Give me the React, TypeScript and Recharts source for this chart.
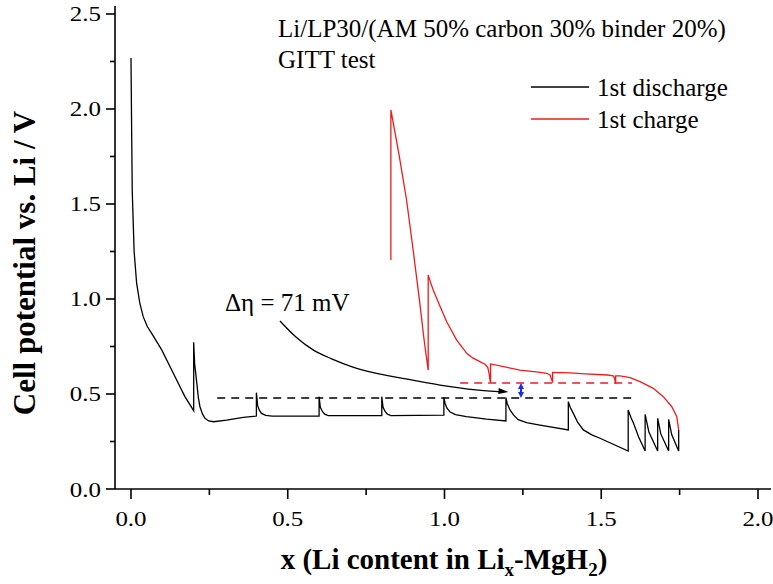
import React from 'react';
import { LineChart, Line, XAxis, YAxis, ReferenceLine, ReferenceDot } from 'recharts';

// 1st discharge (GITT), [x, V]
const discharge: [number, number][] = [
  [0, 2.268], [0.002, 1.9], [0.004, 1.57], [0.01, 1.25], [0.018, 1.083], [0.028, 0.98],
  [0.039, 0.907], [0.052, 0.855], [0.066, 0.819], [0.098, 0.732], [0.135, 0.609],
  [0.172, 0.486], [0.2, 0.412], [0.2, 0.772], [0.203, 0.66], [0.21, 0.556], [0.215, 0.48],
  [0.22, 0.433], [0.228, 0.395], [0.236, 0.372], [0.248, 0.358], [0.263, 0.354],
  [0.305, 0.363], [0.358, 0.377], [0.4, 0.384],
  [0.4, 0.507], [0.404, 0.44], [0.409, 0.416], [0.416, 0.398], [0.43, 0.388], [0.45, 0.384], [0.6, 0.384],
  [0.6, 0.486], [0.604, 0.43], [0.611, 0.407], [0.618, 0.394], [0.629, 0.386], [0.8, 0.386],
  [0.8, 0.486], [0.804, 0.43], [0.811, 0.407], [0.818, 0.394], [0.829, 0.386], [0.998, 0.389],
  [0.998, 0.481], [1.002, 0.45], [1.008, 0.425], [1.018, 0.405], [1.035, 0.392], [1.07, 0.381],
  [1.134, 0.368], [1.196, 0.358],
  [1.196, 0.481], [1.2, 0.45], [1.209, 0.416], [1.22, 0.39], [1.235, 0.365], [1.262, 0.349],
  [1.3, 0.338], [1.395, 0.311],
  [1.395, 0.46], [1.401, 0.43], [1.411, 0.398], [1.425, 0.35], [1.443, 0.311], [1.47, 0.285],
  [1.496, 0.267], [1.586, 0.2],
  [1.586, 0.416], [1.595, 0.375], [1.603, 0.346], [1.619, 0.275], [1.64, 0.2],
  [1.64, 0.393], [1.652, 0.3], [1.68, 0.2],
  [1.68, 0.372], [1.69, 0.29], [1.715, 0.2],
  [1.715, 0.367], [1.725, 0.285], [1.747, 0.2],
  [1.747, 0.311],
];

// 1st charge (GITT), [x, V]
const charge: [number, number][] = [
  [0.829, 1.205], [0.829, 1.995], [0.855, 1.76], [0.879, 1.521], [0.9, 1.258], [0.92, 0.995],
  [0.935, 0.784], [0.948, 0.626],
  [0.948, 1.126], [0.955, 1.09], [0.964, 1.047], [0.986, 0.96], [1.007, 0.88], [1.039, 0.784],
  [1.071, 0.714], [1.09, 0.69], [1.113, 0.67], [1.13, 0.655], [1.138, 0.64], [1.142, 0.61],
  [1.145, 0.575], [1.147, 0.56],
  [1.147, 0.658], [1.2, 0.64], [1.241, 0.626], [1.3, 0.615], [1.326, 0.609], [1.337, 0.6],
  [1.342, 0.575], [1.345, 0.56],
  [1.345, 0.614], [1.4, 0.611], [1.45, 0.606], [1.52, 0.6], [1.538, 0.596], [1.542, 0.585],
  [1.546, 0.553],
  [1.546, 0.595], [1.56, 0.595], [1.592, 0.586], [1.624, 0.565], [1.666, 0.53], [1.698, 0.486],
  [1.725, 0.433], [1.741, 0.381], [1.747, 0.311],
];

// curved pointer from the label to the gap
const pointer: [number, number][] = [
  [0.475, 0.884], [0.526, 0.8], [0.581, 0.732], [0.64, 0.685], [0.708, 0.642],
  [0.78, 0.61], [0.858, 0.585], [0.986, 0.547], [1.1, 0.522], [1.185, 0.511],
];
const pointerTip: [number, number] = [1.204, 0.511];

const dischargeLevel = 0.479;
const chargeLevel = 0.558;
const dischargeDashX: [number, number] = [0.275, 1.598];
const chargeDashX: [number, number] = [1.05, 1.598];
const gapX = 1.244;

const xTicks = [0, 0.25, 0.5, 0.75, 1, 1.25, 1.5, 1.75, 2];
const yTicks = [0, 0.25, 0.5, 0.75, 1, 1.25, 1.5, 1.75, 2, 2.25, 2.5];
const xDomain = [-0.051, 2.0415];
const yDomain = [0, 2.542];

const toRows = (pts: [number, number][]) => pts.map(([x, v]) => ({ x, v }));

const serif = "'Liberation Serif', 'Times New Roman', serif";
const RED = '#ee1c1c';

const isMajor = (v: number) => Math.abs(v * 2 - Math.round(v * 2)) < 1e-6;

function XTick(props: any) {
  const { x, y, payload } = props;
  const major = isMajor(payload.value);
  return (
    <g>
      <line x1={x} y1={y} x2={x} y2={y + (major ? 10 : 6)} stroke="#000" strokeWidth={1.6} />
      {major && (
        <text transform={`translate(${x},${y + 37}) scale(1.16,1)`} textAnchor="middle"
          style={{ fontFamily: serif, fontSize: 21.5 }} fill="#000">
          {payload.value.toFixed(1)}
        </text>
      )}
    </g>
  );
}

function YTick(props: any) {
  const { x, y, payload } = props;
  const major = isMajor(payload.value);
  return (
    <g>
      <line x1={x - (major ? 9 : 5)} y1={y} x2={x} y2={y} stroke="#000" strokeWidth={1.6} />
      {major && (
        <text transform={`translate(${x - 14},${y + 7.5}) scale(1.16,1)`} textAnchor="end"
          style={{ fontFamily: serif, fontSize: 21.5 }} fill="#000">
          {payload.value.toFixed(1)}
        </text>
      )}
    </g>
  );
}

const arrowRight = (p: any) => {
  const { cx, cy } = p;
  const a = 0.08;
  const L = 10, W = 3;
  const bx = cx - L * Math.cos(a), by = cy - L * Math.sin(a);
  const px = -Math.sin(a) * W, py = Math.cos(a) * W;
  return <polygon points={`${cx},${cy} ${bx + px},${by + py} ${bx - px},${by - py}`} fill="#000" />;
};
const arrowUp = (p: any) => (
  <polygon points={`${p.cx},${p.cy} ${p.cx - 3},${p.cy + 6} ${p.cx + 3},${p.cy + 6}`} fill="#1a2fe0" />
);
const arrowDown = (p: any) => (
  <polygon points={`${p.cx},${p.cy} ${p.cx - 3},${p.cy - 6} ${p.cx + 3},${p.cy - 6}`} fill="#1a2fe0" />
);

export default function App() {
  const axisLine = { stroke: '#000', strokeWidth: 1.6 };
  const txt = { fontFamily: serif, fontSize: 25 };
  return (
    <div style={{ position: 'absolute', left: 0, top: 0, width: 773, height: 584, background: '#fff' }}>
      <LineChart width={773} height={584} margin={{ top: 6, right: 2, left: 0, bottom: 0 }}>
        <XAxis dataKey="x" type="number" domain={xDomain} ticks={xTicks} interval={0}
          allowDataOverflow height={95} tickSize={0} tickMargin={0} tickLine={false}
          axisLine={axisLine} tick={(p: any) => <XTick {...p} />} />
        <XAxis xAxisId="top" orientation="top" type="number" domain={xDomain} height={0}
          tick={false} tickLine={false} axisLine={axisLine} />
        <YAxis type="number" domain={yDomain} ticks={yTicks} interval={0} allowDataOverflow
          width={115} tickSize={0} tickMargin={0} tickLine={false} axisLine={axisLine}
          tick={(p: any) => <YTick {...p} />} />
        <YAxis yAxisId="right" orientation="right" type="number" domain={yDomain} width={0}
          tick={false} tickLine={false} axisLine={axisLine} />

        <ReferenceLine segment={[{ x: dischargeDashX[0], y: dischargeLevel }, { x: dischargeDashX[1], y: dischargeLevel }]}
          stroke="#000" strokeWidth={1.3} strokeDasharray="8 6" />
        <ReferenceLine segment={[{ x: chargeDashX[0], y: chargeLevel }, { x: chargeDashX[1], y: chargeLevel }]}
          stroke={RED} strokeWidth={1.3} strokeDasharray="8 6" />

        <Line data={toRows(discharge)} dataKey="v" type="linear" stroke="#000" strokeWidth={1.3}
          dot={false} isAnimationActive={false} />
        <Line data={toRows(charge)} dataKey="v" type="linear" stroke={RED} strokeWidth={1.3}
          dot={false} isAnimationActive={false} />
        <Line data={toRows(pointer)} dataKey="v" type="monotone" stroke="#000" strokeWidth={1.3}
          dot={false} isAnimationActive={false} />

        <ReferenceDot x={pointerTip[0]} y={pointerTip[1]} r={0} shape={arrowRight} />
        <ReferenceLine segment={[{ x: gapX, y: dischargeLevel + 0.01 }, { x: gapX, y: chargeLevel - 0.01 }]}
          stroke="#1a2fe0" strokeWidth={2} />
        <ReferenceDot x={gapX} y={chargeLevel} r={0} shape={arrowUp} />
        <ReferenceDot x={gapX} y={dischargeLevel} r={0} shape={arrowDown} />
      </LineChart>

      <svg width={773} height={584} style={{ position: 'absolute', left: 0, top: 0, pointerEvents: 'none' }}>
        <g fill="#000" style={txt}>
          <text x={278} y={37} style={txt}>Li/LP30/(AM 50% carbon 30% binder 20%)</text>
          <text x={278} y={68} style={txt}>GITT test</text>
          <line x1={531} y1={87} x2={589} y2={87} stroke="#000" strokeWidth={1.3} />
          <text x={597} y={96} style={txt}>1st discharge</text>
          <line x1={531} y1={119} x2={589} y2={119} stroke={RED} strokeWidth={1.3} />
          <text x={597} y={128} style={txt}>1st charge</text>
          <text x={225} y={311} style={txt}>Δη = 71 mV</text>
        </g>
        <text x={444} y={569} textAnchor="middle"
          style={{ fontFamily: serif, fontWeight: 'bold', fontSize: 29 }}>
          x (Li content in Li<tspan style={{ fontSize: 19 }} dy={7}>x</tspan>
          <tspan dy={-7}>-MgH</tspan><tspan style={{ fontSize: 19 }} dy={7}>2</tspan><tspan dy={-7}>)</tspan>
        </text>
        <text transform="translate(35,263) rotate(-90)" textAnchor="middle"
          style={{ fontFamily: serif, fontWeight: 'bold', fontSize: 31 }}>
          Cell potential vs. Li / V
        </text>
      </svg>
    </div>
  );
}
